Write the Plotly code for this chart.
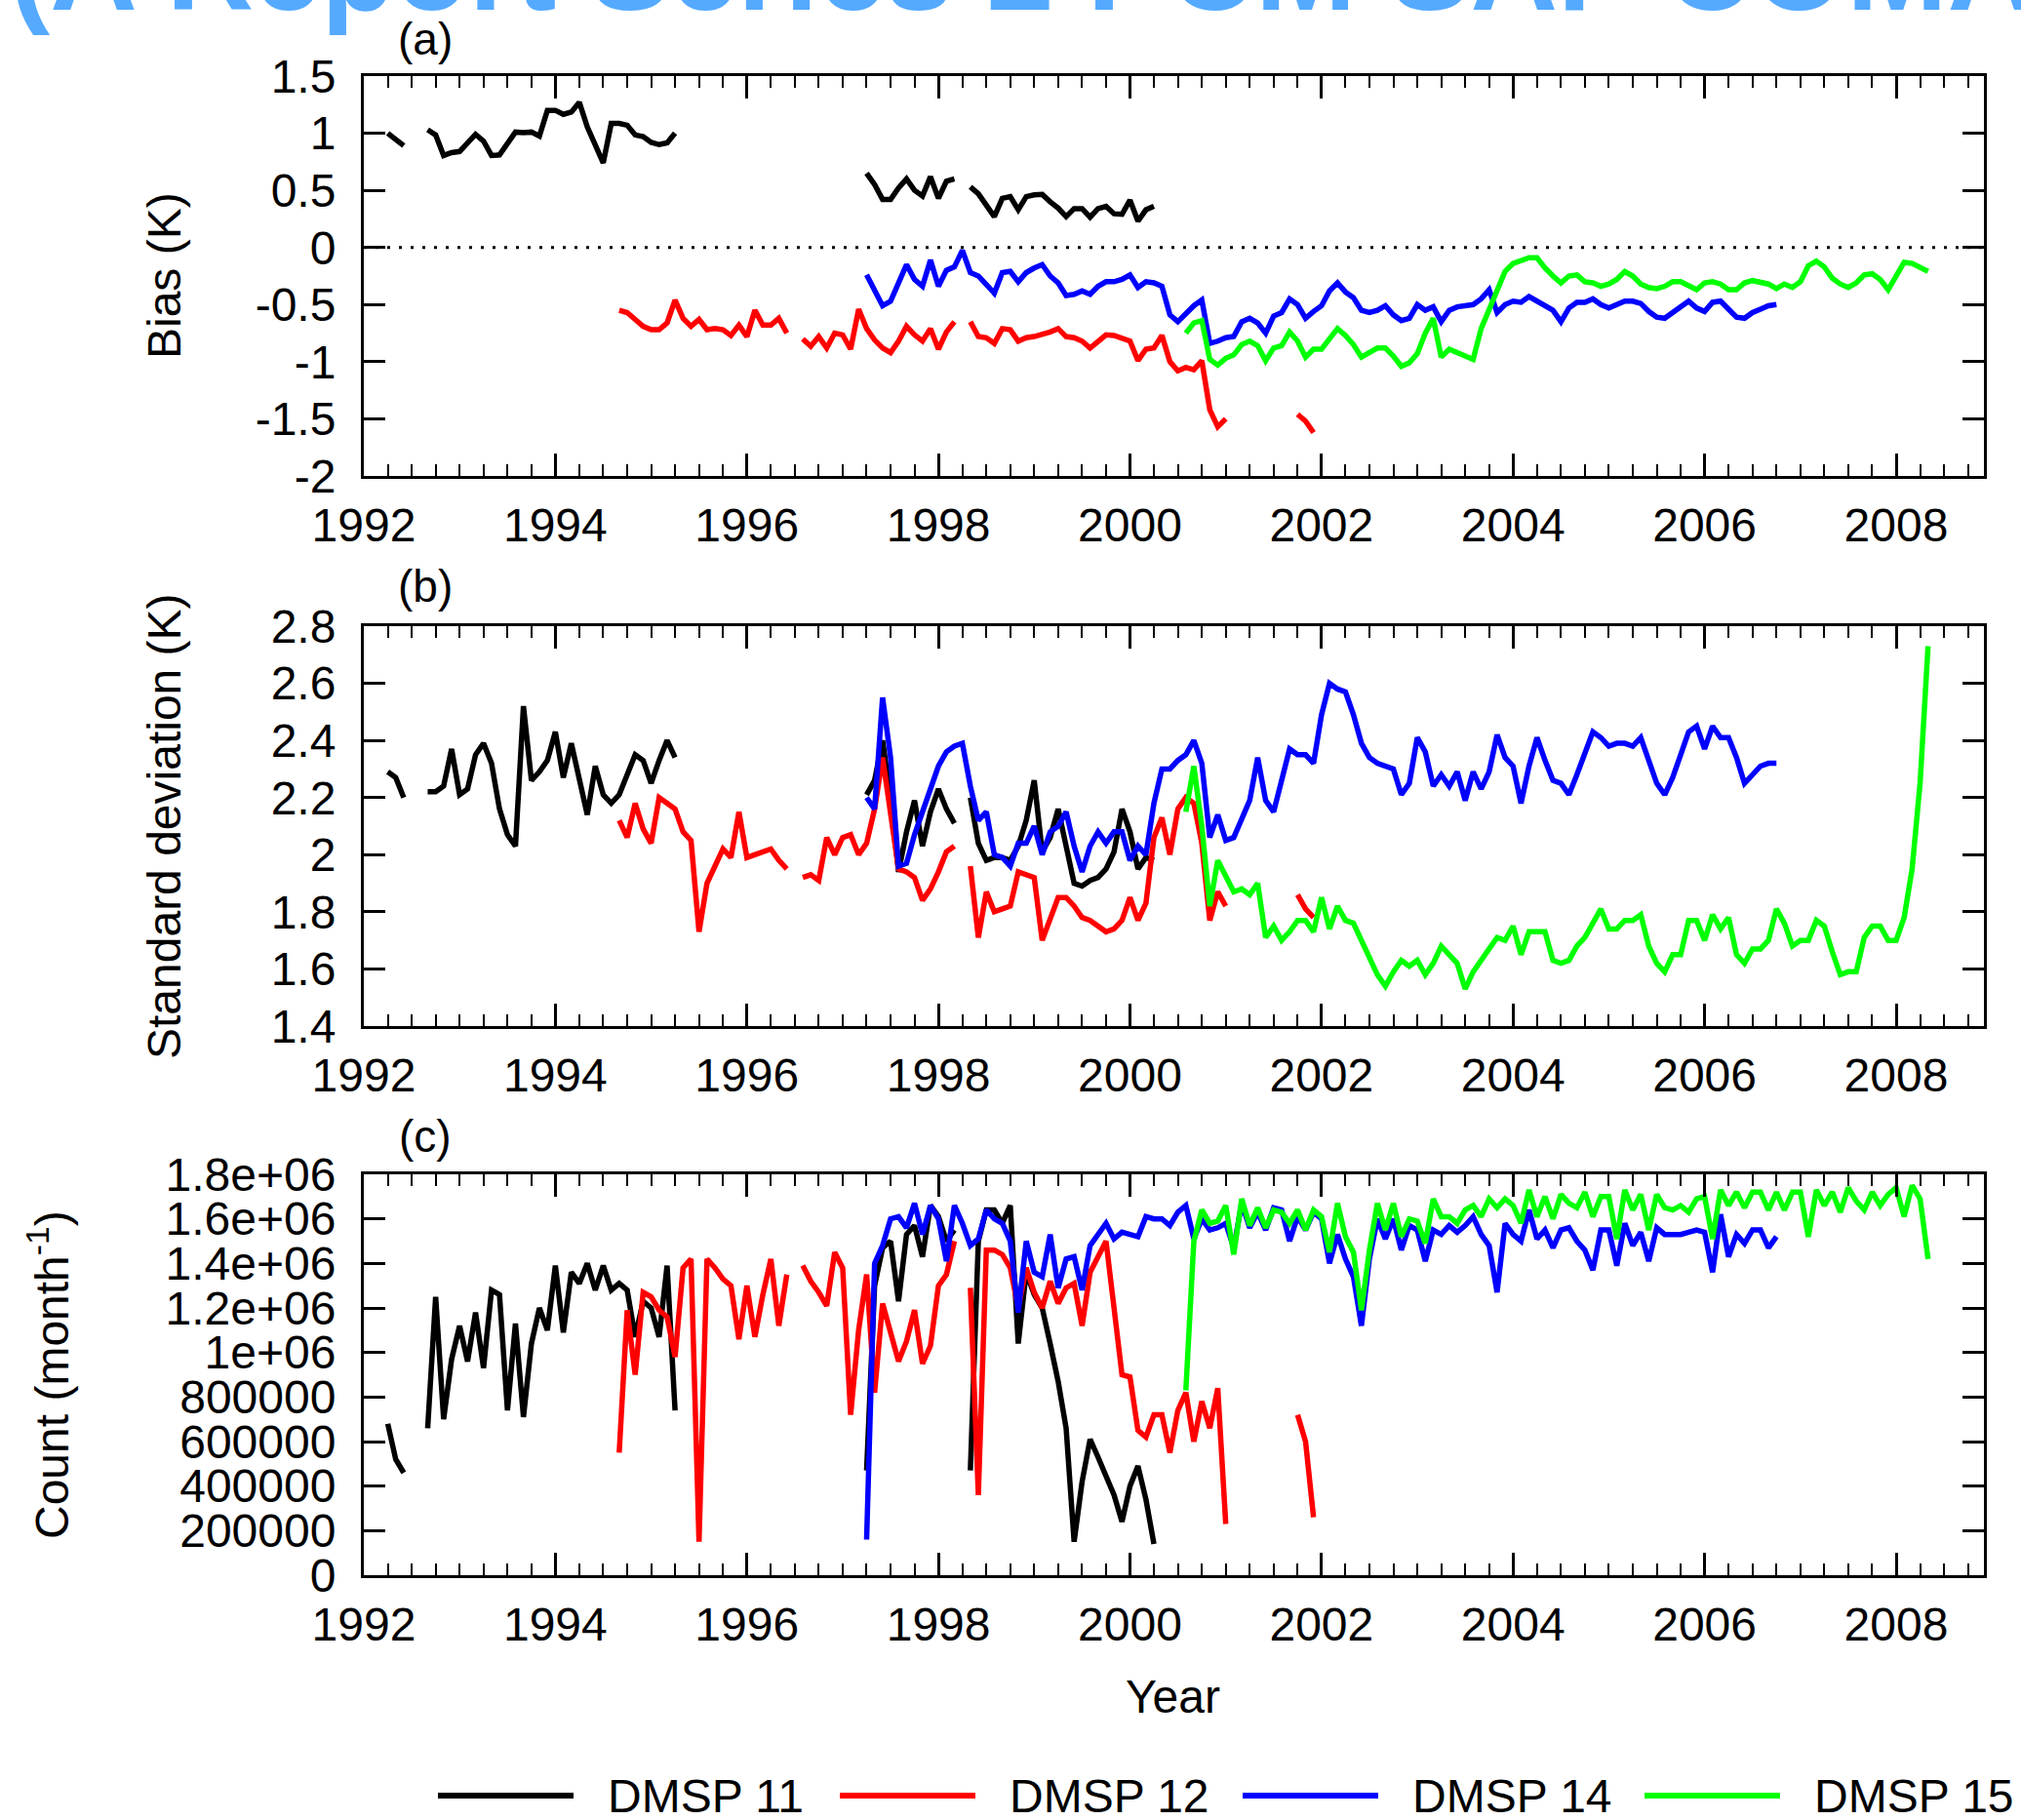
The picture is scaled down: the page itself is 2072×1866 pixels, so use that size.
import plotly.graph_objects as go

N = None

# ---------------- data (monthly series; None = no data) ----------------
# first month of each series (year, month)
DMSP11_START = (1992, 3)
DMSP12_START = (1994, 8)
DMSP14_START = (1997, 3)
DMSP15_START = (2000, 7)

years = [1992, 1994, 1996, 1998, 2000, 2002, 2004, 2006, 2008]
year_labels = ["1992", "1994", "1996", "1998", "2000", "2002", "2004", "2006", "2008"]

bias_ticks = [-2, -1.5, -1, -0.5, 0, 0.5, 1, 1.5]
bias_labels = ["-2", "-1.5", "-1", "-0.5", "0", "0.5", "1", "1.5"]
std_ticks = [1.4, 1.6, 1.8, 2.0, 2.2, 2.4, 2.6, 2.8]
std_labels = ["1.4", "1.6", "1.8", "2", "2.2", "2.4", "2.6", "2.8"]
count_ticks = [0, 200000, 400000, 600000, 800000, 1000000, 1200000, 1400000, 1600000, 1800000]
count_labels = ["0", "200000", "400000", "600000", "800000", "1e+06", "1.2e+06", "1.4e+06", "1.6e+06", "1.8e+06"]

# ---- DMSP 11 ----
dmsp11_bias = ([1.0, 0.95, 0.89] + [N] * 2 +
               [1.03, 0.985, 0.805, 0.83, 0.84, 0.91, 0.99, 0.93, 0.805, 0.81, 0.91, 1.01, 1.005, 1.01, 0.975, 1.2,
                1.2, 1.165, 1.185, 1.27, 1.055, 0.9, 0.74, 1.085, 1.085, 1.07, 0.985, 0.97, 0.92, 0.9, 0.915, 1.0] +
               [N] * 23 +
               [0.65, 0.55, 0.42, 0.42, 0.52, 0.6, 0.5, 0.45, 0.62, 0.43, 0.58, 0.6] + [N] +
               [0.53, 0.47, 0.37, 0.27, 0.43, 0.445, 0.33, 0.445, 0.46, 0.465, 0.4, 0.345, 0.27, 0.34, 0.34, 0.265,
                0.34, 0.36, 0.295, 0.29, 0.415, 0.23, 0.33, 0.36])
dmsp11_std = ([2.29, 2.27, 2.2] + [N] * 2 +
              [2.22, 2.22, 2.24, 2.37, 2.21, 2.23, 2.35, 2.39, 2.32, 2.16, 2.07, 2.03, 2.52, 2.26, 2.29, 2.33,
               2.43, 2.27, 2.39, 2.27, 2.14, 2.31, 2.21, 2.18, 2.21, 2.28, 2.35, 2.33, 2.25, 2.33, 2.40, 2.34] +
              [N] * 23 +
              [2.21, 2.26, 2.40, 2.2, 1.94, 2.08, 2.19, 2.03, 2.15, 2.23, 2.16, 2.11] + [N] +
              [2.2, 2.04, 1.98, 1.99, 1.99, 1.98, 2.03, 2.12, 2.26, 2.01, 2.06, 2.16, 2.03, 1.9, 1.89, 1.91,
               1.92, 1.95, 2.01, 2.16, 2.08, 1.95, 1.99, 1.98])
dmsp11_count = ([680000, 520000, 460000] + [N] * 2 +
                [660000, 1250000, 700000, 970000, 1120000, 960000, 1180000, 930000, 1280000, 1260000, 740000,
                 1130000, 710000, 1040000, 1200000, 1100000, 1390000, 1090000, 1360000, 1310000, 1400000, 1280000,
                 1390000, 1280000, 1310000, 1280000, 1070000, 1230000, 1200000, 1070000, 1390000, 740000] +
                [N] * 23 +
                [470000, 1300000, 1470000, 1500000, 1230000, 1530000, 1570000, 1430000, 1660000, 1610000, 1500000,
                 1550000] + [N] +
                [470000, 1500000, 1640000, 1640000, 1580000, 1660000, 1040000, 1360000, 1260000, 1200000, 1040000,
                 870000, 660000, 150000, 420000, 610000, 530000, 450000, 360000, 240000, 400000, 490000, 340000,
                 140000])

# ---- DMSP 12 ----
dmsp12_bias = ([-0.55, -0.57, -0.63, -0.69, -0.72, -0.72, -0.66, -0.46, -0.62, -0.69, -0.63, -0.72, -0.71, -0.72,
                -0.77, -0.68, -0.78, -0.55, -0.68, -0.68, -0.62, -0.75] + [N] +
               [-0.80, -0.865, -0.78, -0.88, -0.75, -0.765, -0.89, -0.54, -0.71, -0.81, -0.88, -0.92, -0.82, -0.69,
                -0.765, -0.82, -0.71, -0.89, -0.74, -0.65] + [N] +
               [-0.65, -0.78, -0.79, -0.84, -0.71, -0.72, -0.82, -0.79, -0.78, -0.765, -0.74, -0.71, -0.78, -0.79,
                -0.82, -0.88, -0.82, -0.765, -0.77, -0.79, -0.82, -0.99, -0.89, -0.88, -0.77, -1.0, -1.08, -1.05,
                -1.07, -0.99, -1.42, -1.57, -1.5] + [N] * 8 +
               [-1.46, -1.52, -1.62])
dmsp12_std = ([2.12, 2.06, 2.18, 2.09, 2.04, 2.2, 2.18, 2.16, 2.08, 2.05, 1.73, 1.9, 1.96, 2.02, 1.99, 2.15, 1.99,
               2.0, 2.01, 2.02, 1.98, 1.95] + [N] +
              [1.92, 1.93, 1.91, 2.06, 2.0, 2.06, 2.07, 2.0, 2.04, 2.16, 2.34, 2.15, 1.95, 1.94, 1.92, 1.84, 1.88,
               1.94, 2.01, 2.03] + [N] +
              [1.96, 1.71, 1.87, 1.8, 1.81, 1.82, 1.94, 1.93, 1.92, 1.70, 1.78, 1.85, 1.85, 1.82, 1.78, 1.77, 1.75,
               1.73, 1.74, 1.77, 1.85, 1.77, 1.83, 2.06, 2.13, 2.0, 2.16, 2.2, 2.18, 2.04, 1.77, 1.87, 1.82] +
              [N] * 8 +
              [1.86, 1.81, 1.78])
dmsp12_count = ([550000, 1190000, 900000, 1270000, 1250000, 1190000, 1160000, 980000, 1380000, 1420000, 150000,
                 1420000, 1380000, 1330000, 1300000, 1060000, 1300000, 1070000, 1260000, 1420000, 1120000,
                 1350000] + [N] +
                [1390000, 1320000, 1270000, 1210000, 1450000, 1380000, 720000, 1100000, 1350000, 820000, 1220000,
                 1080000, 960000, 1050000, 1190000, 950000, 1030000, 1300000, 1350000, 1500000] + [N] +
                [1290000, 360000, 1460000, 1460000, 1440000, 1380000, 1200000, 1380000, 1270000, 1200000, 1320000,
                 1220000, 1290000, 1310000, 1120000, 1360000, 1430000, 1500000, 1200000, 900000, 890000, 650000,
                 620000, 720000, 720000, 550000, 740000, 820000, 600000, 780000, 660000, 840000, 230000] +
                [N] * 8 +
                [720000, 600000, 260000])

# ---- DMSP 14 ----
dmsp14_bias = [-0.24, -0.38, -0.51, -0.47, -0.31, -0.15, -0.28, -0.34, -0.11, -0.34, -0.2, -0.17, -0.025, -0.22,
               -0.25, -0.32, -0.4, -0.22, -0.21, -0.3, -0.22, -0.18, -0.15, -0.25, -0.31, -0.42, -0.41, -0.38,
               -0.41, -0.34, -0.3, -0.3, -0.28, -0.24, -0.35, -0.3, -0.31, -0.34,
               -0.59, -0.65, -0.58, -0.51, -0.46, -0.84, -0.82, -0.79, -0.78, -0.65,
               -0.62, -0.66, -0.75, -0.6, -0.57, -0.45, -0.5, -0.62, -0.56, -0.51,
               -0.38, -0.31, -0.39, -0.44, -0.55, -0.57, -0.55, -0.51, -0.59, -0.64,
               -0.62, -0.5, -0.55, -0.52, -0.65, -0.55, -0.52, -0.51, -0.5, -0.45,
               -0.37, -0.57, -0.5, -0.47, -0.48, -0.43, -0.47, -0.5, -0.55, -0.65,
               -0.53, -0.48, -0.48, -0.45, -0.5, -0.53, -0.5, -0.47, -0.47, -0.49,
               -0.56, -0.61, -0.62, -0.57, -0.51, -0.47, -0.53, -0.56, -0.48, -0.47,
               -0.54, -0.61, -0.62, -0.57, -0.54, -0.51, -0.5]
dmsp14_std = [2.2, 2.16, 2.55, 2.34, 1.96, 1.97, 2.07, 2.15, 2.24, 2.31, 2.36, 2.38, 2.39, 2.24, 2.12, 2.15, 2.0,
              1.99, 1.96, 2.04, 2.04, 2.1, 2.0, 2.08, 2.1, 2.15, 2.03, 1.94, 2.03, 2.08, 2.04, 2.08, 2.08, 1.98,
              2.03, 2.0, 2.18, 2.3, 2.3, 2.33,
              2.35, 2.40, 2.32, 2.06, 2.14, 2.05, 2.06, 2.12, 2.19, 2.34,
              2.19, 2.15, 2.26, 2.37, 2.35, 2.35, 2.32, 2.49, 2.60, 2.58,
              2.57, 2.49, 2.39, 2.34, 2.32, 2.31, 2.30, 2.21, 2.25, 2.41,
              2.36, 2.24, 2.28, 2.24, 2.29, 2.19, 2.29, 2.23, 2.29, 2.42,
              2.34, 2.31, 2.18, 2.31, 2.41, 2.33, 2.26, 2.25, 2.21, 2.28,
              2.36, 2.43, 2.41, 2.38, 2.39, 2.39, 2.38, 2.41, 2.33, 2.25,
              2.21, 2.27, 2.35, 2.43, 2.45, 2.37, 2.45, 2.41, 2.41, 2.34,
              2.25, 2.28, 2.31, 2.32, 2.32]
dmsp14_count = [160000, 1400000, 1480000, 1600000, 1610000, 1560000, 1670000, 1530000, 1660000, 1600000,
                1410000, 1660000, 1580000, 1480000, 1510000, 1640000, 1600000, 1580000, 1500000, 1180000,
                1500000, 1360000, 1340000, 1530000, 1290000, 1420000, 1430000, 1280000, 1480000, 1530000,
                1580000, 1510000, 1540000, 1530000, 1520000, 1610000, 1600000, 1600000, 1570000, 1630000,
                1660000, 1510000, 1600000, 1550000, 1560000, 1580000, 1470000, 1670000, 1560000, 1630000,
                1550000, 1650000, 1640000, 1500000, 1610000, 1550000, 1630000, 1600000, 1400000, 1530000,
                1420000, 1340000, 1120000, 1420000, 1600000, 1510000, 1600000, 1460000, 1570000, 1550000,
                1410000, 1550000, 1530000, 1570000, 1540000, 1570000, 1610000, 1530000, 1480000, 1270000,
                1580000, 1530000, 1500000, 1640000, 1510000, 1550000, 1470000, 1550000, 1560000, 1500000,
                1460000, 1370000, 1550000, 1550000, 1390000, 1580000, 1480000, 1540000, 1410000, 1560000,
                1530000, 1530000, 1530000, 1540000, 1550000, 1540000, 1360000, 1620000, 1430000, 1530000,
                1490000, 1550000, 1550000, 1470000, 1520000]

# ---- DMSP 15 ----
dmsp15_bias = [-0.75, -0.66, -0.64, -0.98, -1.03, -0.97, -0.94, -0.85, -0.82, -0.86,
               -0.99, -0.88, -0.86, -0.74, -0.82, -0.96, -0.89, -0.89, -0.8, -0.71,
               -0.77, -0.85, -0.96, -0.92, -0.88, -0.88, -0.95, -1.04, -1.01, -0.93,
               -0.75, -0.62, -0.96, -0.89, -0.92, -0.96, -0.98, -0.71, -0.54, -0.35,
               -0.21, -0.14, -0.12, -0.09, -0.09, -0.18, -0.25, -0.31, -0.25, -0.24,
               -0.3, -0.31, -0.34, -0.32, -0.28, -0.21, -0.25, -0.32, -0.35, -0.36,
               -0.34, -0.3, -0.3, -0.34, -0.37, -0.31, -0.3, -0.32, -0.37, -0.37,
               -0.31, -0.29, -0.31, -0.32, -0.36, -0.32, -0.35, -0.3, -0.16, -0.12,
               -0.17, -0.27, -0.32, -0.35, -0.31, -0.24, -0.23, -0.28, -0.37, -0.25,
               -0.13, -0.14, -0.18, -0.21]
dmsp15_std = [2.15, 2.31, 2.1, 1.82, 1.98, 1.92, 1.87, 1.88, 1.86, 1.9,
              1.71, 1.75, 1.70, 1.73, 1.77, 1.77, 1.73, 1.85, 1.74, 1.82,
              1.77, 1.76, 1.70, 1.63, 1.58, 1.54, 1.59, 1.63, 1.61, 1.63,
              1.58, 1.62, 1.68, 1.65, 1.62, 1.53, 1.59, 1.63, 1.67, 1.71,
              1.70, 1.75, 1.65, 1.73, 1.73, 1.73, 1.63, 1.62, 1.63, 1.68,
              1.71, 1.76, 1.81, 1.74, 1.74, 1.77, 1.77, 1.79, 1.68, 1.62,
              1.59, 1.65, 1.65, 1.77, 1.77, 1.70, 1.79, 1.74, 1.78, 1.65,
              1.62, 1.67, 1.67, 1.70, 1.81, 1.76, 1.68, 1.70, 1.70, 1.77,
              1.75, 1.66, 1.58, 1.59, 1.59, 1.71, 1.75, 1.75, 1.70, 1.70,
              1.78, 1.95, 2.25, 2.73]
dmsp15_count = [830000, 1500000, 1640000, 1580000, 1590000, 1660000, 1440000, 1690000, 1570000, 1650000,
                1560000, 1640000, 1630000, 1580000, 1640000, 1550000, 1640000, 1610000, 1450000, 1670000,
                1520000, 1450000, 1190000, 1460000, 1670000, 1550000, 1670000, 1520000, 1600000, 1590000,
                1490000, 1690000, 1610000, 1610000, 1580000, 1640000, 1660000, 1610000, 1690000, 1650000,
                1690000, 1660000, 1580000, 1730000, 1610000, 1700000, 1600000, 1710000, 1670000, 1650000,
                1720000, 1610000, 1700000, 1700000, 1510000, 1730000, 1640000, 1710000, 1550000, 1710000,
                1650000, 1640000, 1660000, 1630000, 1690000, 1700000, 1510000, 1730000, 1660000, 1720000,
                1650000, 1720000, 1720000, 1640000, 1720000, 1640000, 1720000, 1720000, 1520000, 1730000,
                1660000, 1720000, 1630000, 1740000, 1680000, 1640000, 1720000, 1660000, 1710000, 1740000,
                1610000, 1750000, 1690000, 1420000]

SATS = [
    ("DMSP 11", "#000000", DMSP11_START, dmsp11_bias, dmsp11_std, dmsp11_count),
    ("DMSP 12", "#ff0000", DMSP12_START, dmsp12_bias, dmsp12_std, dmsp12_count),
    ("DMSP 14", "#0000ff", DMSP14_START, dmsp14_bias, dmsp14_std, dmsp14_count),
    ("DMSP 15", "#00ff00", DMSP15_START, dmsp15_bias, dmsp15_std, dmsp15_count),
]


def month_axis(start, n):
    y0, m0 = start
    return [y0 + (m0 + k) / 12.0 for k in range(n)]


# ---------------- figure ----------------
W, H = 2072, 1866
FONT = "Liberation Sans, Arial, Helvetica, sans-serif"
fig = go.Figure()

LINE_W = 5.5
for name, color, start, b, s, c in SATS:
    for k, vals in enumerate([b, s, c]):
        fig.add_trace(go.Scatter(
            x=month_axis(start, len(vals)), y=vals, mode="lines", name=name,
            line=dict(color=color, width=LINE_W), connectgaps=False, showlegend=False,
            xaxis="x" if k == 0 else "x%d" % (k + 1),
            yaxis="y" if k == 0 else "y%d" % (k + 1)))


def px_x(p):
    return p / W


def px_y(p):
    return 1 - p / H


XDOM = [px_x(373), px_x(2034)]
panels = [(78, 488), (642, 1052), (1204, 1615)]
yinfo = [
    ([-2, 1.5], bias_ticks, bias_labels),
    ([1.4, 2.8], std_ticks, std_labels),
    ([0, 1800000], count_ticks, count_labels),
]

layout = dict(
    width=W, height=H, margin=dict(l=0, r=0, t=0, b=0, pad=0, autoexpand=False),
    paper_bgcolor="white", plot_bgcolor="white", showlegend=False,
    font=dict(family=FONT, size=48, color="black"),
)
for k, ((top, bot), (yr, tv, tt)) in enumerate(zip(panels, yinfo)):
    sx = "" if k == 0 else str(k + 1)
    layout["xaxis" + sx] = dict(
        domain=XDOM, range=[1992, 2008 + 11 / 12], anchor="y" + sx, automargin=False,
        tickmode="array", tickvals=years, ticktext=year_labels,
        ticks="inside", ticklen=23, tickwidth=2.5, tickcolor="black",
        showline=True, linewidth=3, linecolor="black", mirror="allticks",
        minor=dict(tickmode="linear", tick0=1992, dtick=0.25, ticks="inside", ticklen=12,
                   tickwidth=2, tickcolor="black", showgrid=False),
        showgrid=False, zeroline=False, ticklabelstandoff=6,
        tickfont=dict(size=48, family=FONT, color="black"),
    )
    layout["yaxis" + sx] = dict(
        domain=[px_y(bot), px_y(top)], range=yr, anchor="x" + sx, automargin=False,
        tickmode="array", tickvals=tv, ticktext=tt,
        ticks="inside", ticklen=22, tickwidth=2.5, tickcolor="black",
        showline=True, linewidth=3, linecolor="black", mirror="allticks",
        showgrid=False, zeroline=False, ticklabelstandoff=16,
        tickfont=dict(size=48, family=FONT, color="black"),
    )
fig.update_layout(**layout)

# zero reference line in panel (a)
fig.add_shape(type="line", xref="x domain", yref="y", x0=0, x1=1, y0=0, y1=0,
              line=dict(color="black", width=3, dash="3px,9px"))

ann = []
# clipped header text at the very top
ann.append(dict(text="<b>(A Report Series 2 PCM SAF COMA)</b>", xref="paper", yref="paper",
                x=px_x(8), y=px_y(38), xanchor="left", yanchor="bottom", showarrow=False,
                font=dict(size=124, color="#55aaff", family=FONT)))
# panel letters
for lab, yc in [("(a)", 40), ("(b)", 601), ("(c)", 1165)]:
    ann.append(dict(text=lab, xref="paper", yref="paper", x=px_x(436), y=px_y(yc),
                    xanchor="center", yanchor="middle", showarrow=False, font=dict(size=46)))
# axis titles
ann.append(dict(text="Bias (K)", xref="paper", yref="paper", x=px_x(169), y=px_y(283),
                textangle=-90, xanchor="center", yanchor="middle", showarrow=False, font=dict(size=48)))
ann.append(dict(text="Standard deviation (K)", xref="paper", yref="paper", x=px_x(169), y=px_y(847),
                textangle=-90, xanchor="center", yanchor="middle", showarrow=False, font=dict(size=48)))
ann.append(dict(text="Count (month<sup>-1</sup>)", xref="paper", yref="paper", x=px_x(50), y=px_y(1410),
                textangle=-90, xanchor="center", yanchor="middle", showarrow=False, font=dict(size=48)))
ann.append(dict(text="Year", xref="paper", yref="paper", x=px_x(1202), y=px_y(1739),
                xanchor="center", yanchor="middle", showarrow=False, font=dict(size=48)))

# legend (drawn manually to get long line samples)
leg_y = 1841
leg_lines = [449, 861, 1274, 1686]
for (name, color, *_), lx in zip(SATS, leg_lines):
    fig.add_shape(type="line", xref="paper", yref="paper", x0=px_x(lx), x1=px_x(lx + 139),
                  y0=px_y(leg_y), y1=px_y(leg_y), line=dict(color=color, width=6))
    ann.append(dict(text=name, xref="paper", yref="paper", x=px_x(lx + 172), y=px_y(leg_y),
                    xanchor="left", yanchor="middle", showarrow=False, font=dict(size=48)))

fig.update_layout(annotations=ann)
# remove the browser's default 8px page margin so the figure sits at the window's corner
fig.write_html("out.html", config={"displayModeBar": False},
               post_script="document.body.style.margin='0px';")
